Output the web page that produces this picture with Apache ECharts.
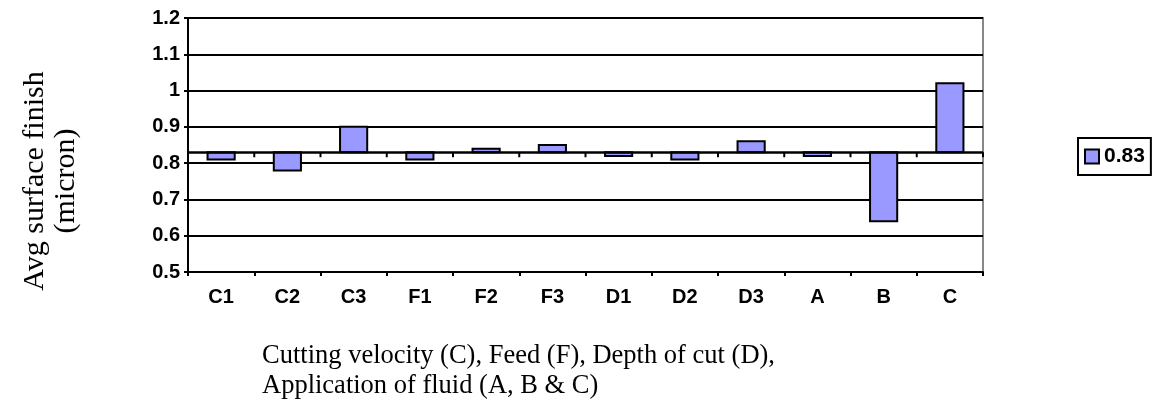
<!DOCTYPE html>
<html><head><meta charset="utf-8">
<script src="https://cdn.jsdelivr.net/npm/echarts@6/dist/echarts.min.js"></script>
<style>html,body{margin:0;padding:0;background:#fff}#c{width:1155px;height:412px}</style>
</head><body><div id="c"></div>
<script>
const categories = ['C1','C2','C3','F1','F2','F3','D1','D2','D3','A','B','C'];
const values = [0.81,0.78,0.90,0.81,0.84,0.85,0.82,0.81,0.86,0.82,0.64,1.02];
const baseline = 0.83;
const seriesName = '0.83';
const yTitle = 'Avg surface finish\n(micron)';
const xTitle = 'Cutting velocity (C), Feed (F), Depth of cut (D),\nApplication of fluid (A, B & C)';

const chart = echarts.init(document.getElementById('c'));
chart.setOption({
  animation: false,
  title: {
    text: xTitle, left: 262, top: 341, padding: 0,
    textStyle: {fontFamily: 'Liberation Serif', fontSize: 26.5, fontWeight: 'normal', color: '#000', lineHeight: 30}
  },
  graphic: [{
    type: 'text', x: 51, y: 181, rotation: Math.PI / 2,
    style: {text: yTitle, font: '30px "Liberation Serif"', fill: '#000', align: 'center', verticalAlign: 'middle', lineHeight: 31}
  }],
  legend: {
    left: 1078, top: 138, orient: 'vertical',
    borderColor: '#000', borderWidth: 2, padding: [8, 6, 8, 6],
    itemWidth: 14, itemHeight: 14, itemGap: 4,
    icon: 'rect',
    textStyle: {fontFamily: 'Liberation Sans', fontSize: 21, fontWeight: 'bold', color: '#000'},
    data: [seriesName]
  },
  grid: {left: 188, right: 172, top: 18, bottom: 140, show: true, borderColor: '#888', borderWidth: 2,
    containLabel: false, outerBoundsMode: 'none'},
  xAxis: {
    type: 'category', data: categories,
    axisLine: {show: true, onZero: false, lineStyle: {color: '#000', width: 2}},
    axisTick: {show: true, length: 4, lineStyle: {color: '#000', width: 2}},
    axisLabel: {fontFamily: 'Liberation Sans', fontSize: 20, fontWeight: 'bold', color: '#000', margin: 15}
  },
  yAxis: {
    type: 'value', min: 0.5, max: 1.2, interval: 0.1,
    axisLine: {show: true, lineStyle: {color: '#000', width: 2}},
    axisTick: {show: true, length: 4, lineStyle: {color: '#000', width: 2}},
    axisLabel: {fontFamily: 'Liberation Sans', fontSize: 20, fontWeight: 'bold', color: '#000', margin: 8,
      formatter: v => String(Math.round(v * 10) / 10)},
    splitLine: {show: true, lineStyle: {color: '#000', width: 2}}
  },
  series: [{
    name: seriesName,
    type: 'custom',
    itemStyle: {color: '#9999FF', borderColor: '#000', borderWidth: 1.5},
    data: values.map((v, i) => [i, v]),
    encode: {x: 0, y: 1},
    renderItem: function (params, api) {
      const x = api.value(0), v = api.value(1);
      const p1 = api.coord([x, v]);
      const p0 = api.coord([x, baseline]);
      const band = api.size([1, 0])[0];
      const w = band * 0.41;
      return {
        type: 'group',
        children: [{
          type: 'rect',
          shape: {x: p0[0] - w / 2, y: Math.min(p0[1], p1[1]), width: w, height: Math.abs(p1[1] - p0[1])},
          style: {fill: '#9999FF', stroke: '#000', lineWidth: 2}
        }, {
          type: 'line',
          shape: {x1: p0[0] + band / 2, y1: p0[1], x2: p0[0] + band / 2, y2: p0[1] + 5},
          style: {stroke: '#000', lineWidth: 2}
        }]
      };
    },
    markLine: {
      silent: true, symbol: 'none', label: {show: false},
      lineStyle: {color: '#000', width: 2.5, type: 'solid'},
      data: [{yAxis: baseline}]
    }
  }]
});
</script></body></html>
